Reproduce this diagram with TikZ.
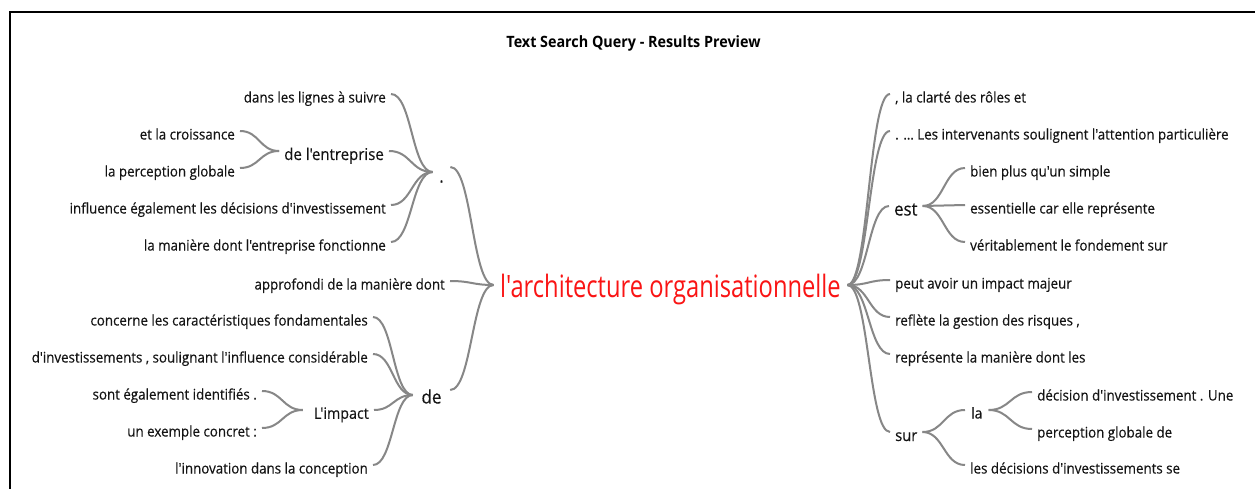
\documentclass[tikz,border=0pt]{standalone}
\usepackage{fontspec}
\setmainfont{Open Sans}
\newfontfamily\wtf[FakeStretch=0.92,FakeBold=0.3,Ligatures=TeXOff]{Open Sans}
\newfontfamily\ctf[FakeStretch=0.77,Ligatures=TeXOff]{Open Sans}
\newfontfamily\ttlf[FakeStretch=0.92,Ligatures=TeXOff]{Open Sans}
\usetikzlibrary{calc}
\definecolor{lnk}{RGB}{135,135,135}
\definecolor{txt}{RGB}{20,20,20}
\definecolor{ctrred}{RGB}{250,20,20}
\tikzset{
  lk/.style={draw=lnk, line width=2pt,
    to path={let \p1=(\tikztostart), \p2=(\tikztotarget) in
      .. controls ({0.5*\x1+0.5*\x2},\y1) and ({0.5*\x1+0.5*\x2},\y2) .. (\tikztotarget)}},
  wd/.style={text=txt, inner ysep=0pt, inner xsep=5pt, text depth=0pt},
  fs/.style 2 args={font=\wtf\fontsize{#1}{#1}\selectfont, text height=#2},
  small/.style={wd, fs={14.5}{17pt}},
  lnode/.style={small, anchor=east},
  rnode/.style={small, anchor=west},
  ctrnode/.style={text=ctrred, font=\ctf\fontsize{30.8}{30.8}\selectfont, inner ysep=0pt, inner xsep=6.5pt, text height=25pt, text depth=0pt},
  ttl/.style={font=\ttlf\bfseries\fontsize{15.6}{15.6}\selectfont, text=black, inner sep=0pt}
}
\begin{document}
\begin{tikzpicture}[x=1pt,y=-1pt]
\useasboundingbox (0,0) rectangle (1255,489);
\fill[white] (0,0) rectangle (1255,489);
\draw[line width=2pt] (9.5,489) -- (9.5,12.5) -- (1255,12.5);
\node[ttl] (title) at (633.5,43) {Text Search Query - Results Preview};

% centre
\node[ctrnode] (c) at (670.5,285) {l'architecture organisationnelle};

% left: "." branch
\node[wd, fs={18}{26pt}, inner xsep=6.5pt] (dot) at (441.5,169.5) {.};
\node[lnode] (a1) at (391,94) {dans les lignes à suivre};
\node[wd, fs={16.3}{18pt}, anchor=east] (a2) at (389,151) {de l'entreprise};
\node[lnode] (a3) at (391,205) {influence également les décisions d'investissement};
\node[lnode] (a4) at (391,242) {la manière dont l'entreprise fonctionne};
\node[lnode] (a21) at (240,131) {et la croissance};
\node[lnode] (a22) at (240,168) {la perception globale};

\node[lnode] (ap) at (450,281) {approfondi de la manière dont};

% left: "de" branch
\node[wd, fs={18.5}{22pt}, inner xsep=8.5pt] (de) at (431.5,392.5) {de};
\node[lnode] (b1) at (373,317) {concerne les caractéristiques fondamentales};
\node[lnode] (b2) at (373,354) {d'investissements , soulignant l'influence considérable};
\node[wd, fs={15.5}{17.5pt}, anchor=east] (b3) at (374,410) {\hspace{6pt}L'impact};
\node[lnode] (b4) at (373,465) {l'innovation dans la conception};
\node[lnode] (b31) at (262,391) {sont également identifiés .};
\node[lnode] (b32) at (262,428) {un exemple concret :};

% right side
\node[rnode] (r1) at (890,94) {, la clarté des rôles et};
\node[rnode] (r2) at (890,131) {. … Les intervenants soulignent l'attention particulière};
\node[wd, fs={18.2}{19pt}, anchor=west] (r3) at (889,206) {est};
\node[rnode] (r31) at (965,168) {bien plus qu'un simple};
\node[rnode] (r32) at (965,205) {essentielle car elle représente};
\node[rnode] (r33) at (965,242) {véritablement le fondement sur};
\node[rnode] (r4) at (890,280) {peut avoir un impact majeur};
\node[rnode] (r5) at (890,317) {reflète la gestion des risques ,};
\node[rnode] (r6) at (890,354) {représente la manière dont les};
\node[wd, fs={16}{18pt}, anchor=west] (r7) at (890,432) {sur};
\node[wd, fs={15}{17pt}, anchor=west, inner xsep=6pt] (r71) at (965,410) {la};
\node[rnode] (r711) at (1032,392) {décision d'investissement . Une};
\node[rnode] (r712) at (1032,429) {perception globale de};
\node[rnode] (r72) at (965,465) {les décisions d'investissements se};

% connectors left
\draw[lk] (a1.east) to ([yshift=-2.5pt]dot.west);
\draw[lk] (a2.east) to ([yshift=-2.5pt]dot.west);
\draw[lk] (a3.east) to ([yshift=-2.5pt]dot.west);
\draw[lk] (a4.east) to ([yshift=-2.5pt]dot.west);
\draw[lk] (a21.east) to (a2.west);
\draw[lk] (a22.east) to (a2.west);
\draw[lk] ([yshift=2.5pt]dot.east) to (c.west);
\draw[lk] (ap.east) to (c.west);
\draw[lk] ([yshift=2.5pt]de.east) to (c.west);
\draw[lk] (b1.east) to ([yshift=-2.5pt]de.west);
\draw[lk] (b2.east) to ([yshift=-2.5pt]de.west);
\draw[lk] (b3.east) to ([yshift=-2.5pt]de.west);
\draw[lk] (b4.east) to ([yshift=-2.5pt]de.west);
\draw[lk] (b31.east) to (b3.west);
\draw[lk] (b32.east) to (b3.west);

% connectors right
\draw[lk] (c.east) to (r1.west);
\draw[lk] (c.east) to (r2.west);
\draw[lk] (c.east) to (r3.west);
\draw[lk] (c.east) to (r4.west);
\draw[lk] (c.east) to (r5.west);
\draw[lk] (c.east) to (r6.west);
\draw[lk] (c.east) to (r7.west);
\draw[lk] (r3.east) to (r31.west);
\draw[lk] (r3.east) to (r32.west);
\draw[lk] (r3.east) to (r33.west);
\draw[lk] (r7.east) to (r71.west);
\draw[lk] (r7.east) to (r72.west);
\draw[lk] (r71.east) to (r711.west);
\draw[lk] (r71.east) to (r712.west);
\end{tikzpicture}
\end{document}
